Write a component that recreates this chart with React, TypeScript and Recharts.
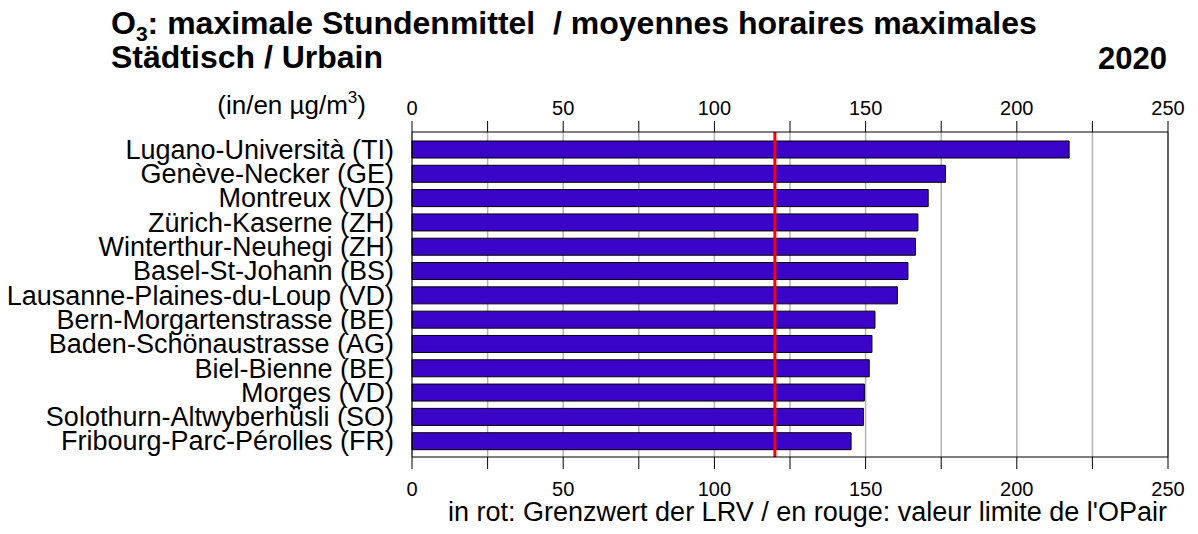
import React from 'react';
import { ComposedChart, Bar, Line, XAxis, YAxis, CartesianGrid, ReferenceLine } from 'recharts';

// stations, sorted by the maximal hourly mean (µg/m3)
const stations = [
  'Lugano-Università (TI)',
  'Genève-Necker (GE)',
  'Montreux (VD)',
  'Zürich-Kaserne (ZH)',
  'Winterthur-Neuhegi (ZH)',
  'Basel-St-Johann (BS)',
  'Lausanne-Plaines-du-Loup (VD)',
  'Bern-Morgartenstrasse (BE)',
  'Baden-Schönaustrasse (AG)',
  'Biel-Bienne (BE)',
  'Morges (VD)',
  'Solothurn-Altwyberhüsli (SO)',
  'Fribourg-Parc-Pérolles (FR)',
];
const maxHourly = [217.3, 176.4, 170.7, 167.3, 166.5, 164.0, 160.5, 153.1, 152.1, 151.2, 149.6, 149.3, 145.2];
const xTicks = [0, 25, 50, 75, 100, 125, 150, 175, 200, 225, 250];
const limitValue = 120;

const data = stations.map((station, i) => ({ station, value: maxHourly[i] }));

const FONT = '"Liberation Sans", Arial, sans-serif';
const W = 1198;
const H = 534;

const tickLabel = (v: number) => (v % 50 === 0 ? String(v) : '');

export default function App() {
  return (
    <div style={{ position: 'absolute', left: 0, top: 0, width: W, height: H, background: '#fff', fontFamily: FONT }}>
      <ComposedChart
        width={W}
        height={H}
        data={data}
        layout="vertical"
        margin={{ top: 0, right: 30, bottom: 0, left: 0 }}
      >
        <CartesianGrid xAxisId="bottom" horizontal={false} stroke="#b4b4b4" strokeWidth={1.5} />
        <XAxis
          xAxisId="top"
          orientation="top"
          type="number"
          domain={[0, 250]}
          ticks={xTicks}
          interval={0}
          height={132}
          tickSize={11}
          tickMargin={6}
          tickFormatter={tickLabel}
          stroke="#000"
          tick={{ fill: '#000', fontSize: 20, fontFamily: FONT }}
        />
        <XAxis
          xAxisId="bottom"
          orientation="bottom"
          type="number"
          domain={[0, 250]}
          ticks={xTicks}
          interval={0}
          height={77}
          tickSize={12}
          tickMargin={13}
          tickFormatter={tickLabel}
          stroke="#000"
          tick={{ fill: '#000', fontSize: 20, fontFamily: FONT }}
        />
        <YAxis
          type="category"
          dataKey="station"
          width={412}
          interval={0}
          tickLine={false}
          tickSize={0}
          tickMargin={18}
          padding={{ top: 5, bottom: 4 }}
          stroke="#000"
          tick={{ fill: '#000', fontSize: 27, fontFamily: FONT }}
        />
        <Bar
          xAxisId="bottom"
          dataKey="value"
          fill="#3a05c9"
          stroke="#000"
          strokeWidth={1}
          barSize={17}
          isAnimationActive={false}
        />
        {/* invisible series so the top axis gets its scale */}
        <Line
          xAxisId="top"
          dataKey="value"
          stroke="none"
          dot={false}
          activeDot={false}
          legendType="none"
          isAnimationActive={false}
        />
        <ReferenceLine xAxisId="bottom" x={250} stroke="#000" strokeWidth={1} />
        <ReferenceLine xAxisId="bottom" x={limitValue} stroke="#ff0000" strokeWidth={3} />
      </ComposedChart>
      <svg
        width={W}
        height={H}
        style={{ position: 'absolute', left: 0, top: 0, pointerEvents: 'none' }}
        fontFamily={FONT}
      >
        <text x={111} y={34} fontSize={32} fontWeight="bold" fill="#000" style={{ whiteSpace: 'pre' }}>
          O<tspan fontSize={21} dy={7}>3</tspan>
          <tspan dy={-7} style={{ whiteSpace: 'pre' }}>{': maximale Stundenmittel  / moyennes horaires maximales'}</tspan>
        </text>
        <text x={111} y={68} fontSize={32} fontWeight="bold" fill="#000">
          Städtisch / Urbain
        </text>
        <text x={1167} y={69} fontSize={31} fontWeight="bold" fill="#000" textAnchor="end">
          2020
        </text>
        <text x={366} y={114} fontSize={26} fill="#000" textAnchor="end">
          (in/en µg/m<tspan fontSize={17} dy={-11}>3</tspan>
          <tspan dy={11}>)</tspan>
        </text>
        <text x={1167} y={521} fontSize={27} fill="#000" textAnchor="end">
          in rot: Grenzwert der LRV / en rouge: valeur limite de l'OPair
        </text>
      </svg>
    </div>
  );
}
